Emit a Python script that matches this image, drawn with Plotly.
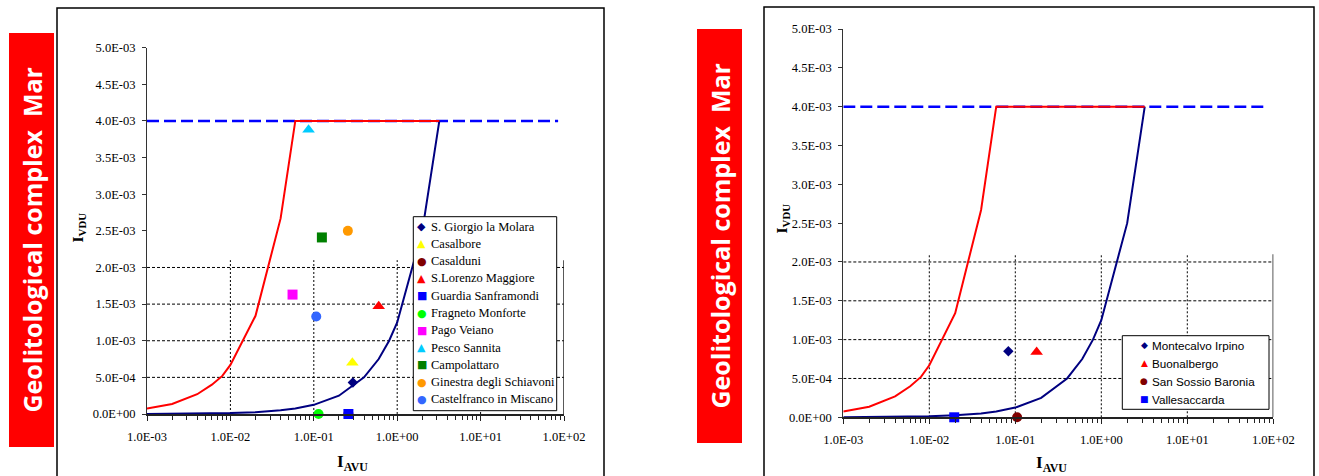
import plotly.graph_objects as go

W, H = 1319, 476

# ---- critical curves (same for both complexes) ----
red_x = [0.001, 0.002, 0.004, 0.006, 0.008, 0.01, 0.02, 0.04, 0.06, 3.2]
red_y = [7.5e-5, 1.37e-4, 2.7e-4, 4.0e-4, 5.2e-4, 6.7e-4, 1.34e-3, 2.67e-3, 4.0e-3, 4.0e-3]

navy_x = [0.001, 0.002, 0.004, 0.006, 0.008, 0.01, 0.02, 0.04, 0.06, 0.08,
          0.1, 0.2, 0.4, 0.6, 0.8, 1.0, 2.0, 3.2]
navy_y = [1e-6, 3e-6, 5e-6, 8e-6, 1e-5, 1.3e-5, 2.5e-5, 5e-5, 7.5e-5, 1e-4,
          1.25e-4, 2.5e-4, 5e-4, 7.5e-4, 1e-3, 1.25e-3, 2.5e-3, 4.0e-3]

limit_x = [0.001, 85]
limit_y = [4.0e-3, 4.0e-3]

# ---- sites, left panel ----
left_names = ["S. Giorgio la Molara", "Casalbore", "Casalduni", "S.Lorenzo Maggiore",
              "Guardia Sanframondi", "Fragneto Monforte", "Pago Veiano", "Pesco Sannita",
              "Campolattaro", "Ginestra degli Schiavoni", "Castelfranco in Miscano"]
left_x = [0.294, 0.29, 0.26, 0.60, 0.26, 0.114, 0.0556, 0.0865, 0.125, 0.256, 0.107]
left_y = [4.3e-4, 7.0e-4, 0.0, 1.47e-3, 0.0, 0.0, 1.63e-3, 3.88e-3, 2.41e-3, 2.50e-3, 1.33e-3]

# ---- sites, right panel ----
right_names = ["Montecalvo Irpino", "Buonalbergo", "San Sossio Baronia", "Vallesaccarda"]
right_x = [0.083, 0.177, 0.105, 0.0195]
right_y = [8.5e-4, 8.4e-4, 0.0, 0.0]

# ---- axis ticks ----
x_tickvals = [1e-3, 1e-2, 1e-1, 1e0, 1e1, 1e2]
x_ticktext = ["1.0E-03", "1.0E-02", "1.0E-01", "1.0E+00", "1.0E+01", "1.0E+02"]
y_tickvals = [0, 5e-4, 1e-3, 1.5e-3, 2e-3, 2.5e-3, 3e-3, 3.5e-3, 4e-3, 4.5e-3, 5e-3]
y_ticktext = ["0.0E+00", "5.0E-04", "1.0E-03", "1.5E-03", "2.0E-03", "2.5E-03",
              "3.0E-03", "3.5E-03", "4.0E-03", "4.5E-03", "5.0E-03"]
grid_y = [5e-4, 1e-3, 1.5e-3, 2e-3]
grid_x = [1e-2, 1e-1, 1e0, 1e1]
grid_top = 2.1e-3

# marker styles
left_style = [("diamond", "#000080", 8), ("triangle-up", "#FFFF00", 11), ("circle", "#800000", 10),
              ("triangle-up", "#FF0000", 11), ("square", "#0000FF", 10), ("circle", "#00FF00", 10),
              ("square", "#FF00FF", 10), ("triangle-up", "#00CCFF", 11), ("square", "#008000", 10),
              ("circle", "#FF9900", 10), ("circle", "#3366FF", 10)]
right_style = [("diamond", "#000080", 8), ("triangle-up", "#FF0000", 11),
               ("circle", "#800000", 10), ("square", "#0000FF", 10)]
glyph = {"diamond": "\u25c6", "triangle-up": "\u25b2", "circle": "\u25cf", "square": "\u25a0"}


def px(x):
    return x / W


def py(y):
    return 1 - y / H


fig = go.Figure()


def add_panel(xa, ya, names, xs, ys, styles):
    # partial grid
    gx, gy = [], []
    for v in grid_y:
        gx += [1e-3, 1e2, None]
        gy += [v, v, None]
    fig.add_trace(go.Scatter(x=gx, y=gy, mode="lines", xaxis=xa, yaxis=ya, showlegend=False,
                             hoverinfo="skip", line=dict(color="black", width=1, dash="3px,2px")))
    vx, vy = [], []
    for v in grid_x:
        vx += [v, v, None]
        vy += [0, grid_top, None]
    fig.add_trace(go.Scatter(x=vx, y=vy, mode="lines", xaxis=xa, yaxis=ya, showlegend=False,
                             hoverinfo="skip", line=dict(color="black", width=1, dash="2px,2px")))
    fig.add_trace(go.Scatter(x=[1e2, 1e2], y=[0, grid_top], mode="lines", xaxis=xa, yaxis=ya,
                             showlegend=False, hoverinfo="skip", line=dict(color="#222", width=1.5)))
    # threshold and critical curves
    fig.add_trace(go.Scatter(x=limit_x, y=limit_y, mode="lines", xaxis=xa, yaxis=ya, showlegend=False,
                             line=dict(color="#0000FF", width=2.5, dash="12px,5px")))
    fig.add_trace(go.Scatter(x=navy_x, y=navy_y, mode="lines", xaxis=xa, yaxis=ya, showlegend=False,
                             line=dict(color="#000080", width=2)))
    fig.add_trace(go.Scatter(x=red_x, y=red_y, mode="lines", xaxis=xa, yaxis=ya, showlegend=False,
                             line=dict(color="#FF0000", width=2)))
    for n, x, y, (sym, col, sz) in zip(names, xs, ys, styles):
        fig.add_trace(go.Scatter(x=[x], y=[y], mode="markers", name=n, xaxis=xa, yaxis=ya,
                                 showlegend=False, cliponaxis=False,
                                 marker=dict(symbol=sym, color=col, size=sz, line=dict(width=0))))


add_panel("x", "y", left_names, left_x, left_y, left_style)
add_panel("x2", "y2", right_names, right_x, right_y, right_style)

tick_font = dict(family="Liberation Serif", size=12.5, color="black")


def xaxis_cfg(dom):
    return dict(domain=dom, type="log", range=[-3, 2], tickvals=x_tickvals, ticktext=x_ticktext,
                ticks="outside", ticklen=5, tickcolor="#222", showgrid=False, zeroline=False,
                showline=True, linecolor="#222", linewidth=2, tickfont=tick_font,
                ticklabelstandoff=5, automargin=False,
                minor=dict(tickvals=[k * 10 ** e for e in range(-3, 2) for k in range(2, 10)],
                           ticks="outside", ticklen=4, tickcolor="#222", showgrid=False))


def yaxis_cfg(dom, anchor):
    return dict(domain=dom, anchor=anchor, range=[0, 5e-3], tickvals=y_tickvals, ticktext=y_ticktext,
                ticks="outside", ticklen=4, tickcolor="#333", showgrid=False, zeroline=False,
                showline=True, linecolor="#333", linewidth=1, tickfont=tick_font,
                ticklabelstandoff=4, automargin=False)


fig.update_layout(
    width=W, height=H, autosize=False,
    margin=dict(l=0, r=0, t=0, b=0, pad=0, autoexpand=False),
    paper_bgcolor="white", plot_bgcolor="white", showlegend=False,
    xaxis=dict(anchor="y", **xaxis_cfg([px(147), px(564)])),
    yaxis=yaxis_cfg([py(414), py(47.7)], "x"),
    xaxis2=dict(anchor="y2", **xaxis_cfg([px(843.3), px(1273.3)])),
    yaxis2=yaxis_cfg([py(417.3), py(29)], "x2"),
)

shapes = []
annotations = []

# outer frames and red title bands
for x0, x1, top in [(57, 604, 8), (764, 1314, 7)]:
    shapes.append(dict(type="rect", xref="paper", yref="paper", x0=px(x0), x1=px(x1),
                       y0=-0.1, y1=py(top), line=dict(color="black", width=1.5), layer="below"))
for x0, x1, y0, y1 in [(9, 54, 33, 447), (697, 742, 29, 443)]:
    shapes.append(dict(type="rect", xref="paper", yref="paper", x0=px(x0), x1=px(x1),
                       y0=py(y1), y1=py(y0), fillcolor="#FF0000", line=dict(width=0), layer="below"))
    annotations.append(dict(xref="paper", yref="paper", x=px((x0 + x1) / 2), y=py((y0 + y1) / 2),
                            text="<b>Geolitological complex\u00a0 Mar</b>", textangle=-90,
                            showarrow=False, xanchor="center", yanchor="middle",
                            font=dict(family="Open Sans", size=25, color="white")))

# axis titles (anchored on the side of the main letter's top)
for x, y in [(66, 228), (771, 219)]:
    annotations.append(dict(xref="paper", yref="paper", x=px(x), y=py(y), showarrow=False,
                            text="<b>I<sub>VDU</sub></b>", textangle=-90,
                            xanchor="left", yanchor="middle",
                            font=dict(family="Liberation Serif", size=15.5, color="black")))
for x, y in [(352, 450), (1051, 451)]:
    annotations.append(dict(xref="paper", yref="paper", x=px(x), y=py(y), showarrow=False,
                            text="<b>I<sub>AVU</sub></b>", xanchor="center", yanchor="top",
                            font=dict(family="Liberation Serif", size=17, color="black")))


def add_key(box, row0, step, sym_x, text_x, names, styles, font, gsize):
    bx0, by0, bx1, by1 = box
    shapes.append(dict(type="rect", xref="paper", yref="paper", x0=px(bx0), x1=px(bx1),
                       y0=py(by1), y1=py(by0), fillcolor="white",
                       line=dict(color="black", width=1), layer="above"))
    for i, (n, (sym, col, _)) in enumerate(zip(names, styles)):
        yy = row0 + i * step
        annotations.append(dict(xref="paper", yref="paper", x=px(sym_x), y=py(yy), showarrow=False,
                                text=glyph[sym], xanchor="center", yanchor="middle",
                                font=dict(family="DejaVu Sans", size=gsize, color=col)))
        annotations.append(dict(xref="paper", yref="paper", x=px(text_x), y=py(yy), showarrow=False,
                                text=n, xanchor="left", yanchor="middle", font=font))


add_key((413.3, 216.7, 556.7, 410.7), 226.7, 17.26, 421.7, 428.5, left_names, left_style,
        dict(family="Liberation Serif", size=12.5, color="black"), 11)
add_key((1122.3, 335.7, 1269, 409.3), 345, 18, 1144, 1150, right_names, right_style,
        dict(family="Liberation Sans", size=11.7, color="black"), 9)

fig.update_layout(shapes=shapes, annotations=annotations)
fig.write_html("out.html")
